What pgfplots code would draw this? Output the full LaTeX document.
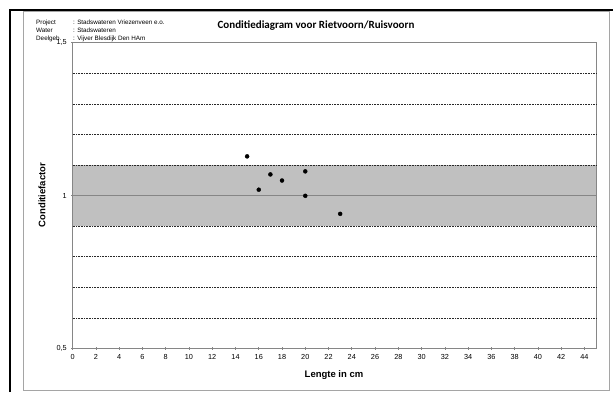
\documentclass[border=0pt]{standalone}
\usepackage{pgfplots}
\pgfplotsset{compat=1.18}
\usepackage{fontspec}
\setmainfont{Liberation Sans}
\newfontfamily\titlefont{Carlito}
\definecolor{bandgray}{RGB}{192,192,192}
\definecolor{axgray}{RGB}{134,134,134}
\definecolor{framegray}{RGB}{165,165,165}
\definecolor{gridc}{RGB}{40,40,40}
\begin{document}
\begin{tikzpicture}[x=1pt,y=1pt]
\useasboundingbox (0,0) rectangle (613,392);
\draw[framegray, line width=1pt] (23,1.5) rectangle (609,380);
\draw[black, line width=2pt] (10,0) -- (10,382) -- (613,382);
\begin{axis}[
  at={(72.7pt,43.7pt)}, anchor=south west,
  scale only axis, width=523.3pt, height=305.6pt,
  xmin=0, xmax=45, ymin=0.5, ymax=1.5,
  xtick={0,2,...,44},
  ytick={0.5,1,1.5},
  yticklabels={{0,5},{1},{1,5}},
  extra y ticks={0.6,0.7,0.8,0.9,1.1,1.2,1.3,1.4},
  extra y tick labels={},
  extra y tick style={grid=major, major tick length=0pt,
     major grid style={gridc, line width=0.4pt, dash pattern=on 0.8pt off 0.8pt}},
  ymajorgrids=false,
  axis line style={axgray, line width=0.8pt},
  tick style={axgray, line width=0.6pt},
  major tick length=3pt,
  tick align=center,
  xtick pos=bottom, ytick pos=left,
  ticklabel style={font=\fontsize{7.3}{8}\selectfont, text=black},
  /pgf/number format/assume math mode=true,
  xticklabel style={yshift=-1pt},
  yticklabel style={xshift=-1pt},
  axis on top,
  clip=false,
]
\addplot[fill=bandgray, draw=none] coordinates {(0,0.9) (45,0.9) (45,1.1) (0,1.1)} -- cycle;
\addplot[axgray, line width=0.8pt] coordinates {(0,1) (45,1)};
\addplot[only marks, mark=*, mark size=2pt, black] coordinates {
(15,1.128) (16,1.019) (17,1.069) (18,1.049) (20,1.079) (20,0.999) (23,0.940)
};
\end{axis}
\node[font=\titlefont\bfseries\fontsize{11}{13}\selectfont] at (316,366) {Conditiediagram voor Rietvoorn/Ruisvoorn};
\begin{scope}[every node/.style={anchor=base west, inner sep=0pt, font=\fontsize{6.3}{7}\selectfont}]
\node at (36,367.5) {Project};
\node at (36,359.5) {Water};
\node at (36,351.5) {Deelgeb.};
\node at (73,367.5) {: Stadswateren Vriezenveen e.o.};
\node at (73,359.5) {: Stadswateren};
\node at (73,351.5) {: Vijver Blesdijk Den HAm};
\end{scope}
\node[rotate=90, font=\bfseries\fontsize{9.5}{11}\selectfont] at (42,197) {Conditiefactor};
\node[font=\bfseries\fontsize{9.5}{11}\selectfont] at (334,17) {Lengte in cm};
\end{tikzpicture}
\end{document}
